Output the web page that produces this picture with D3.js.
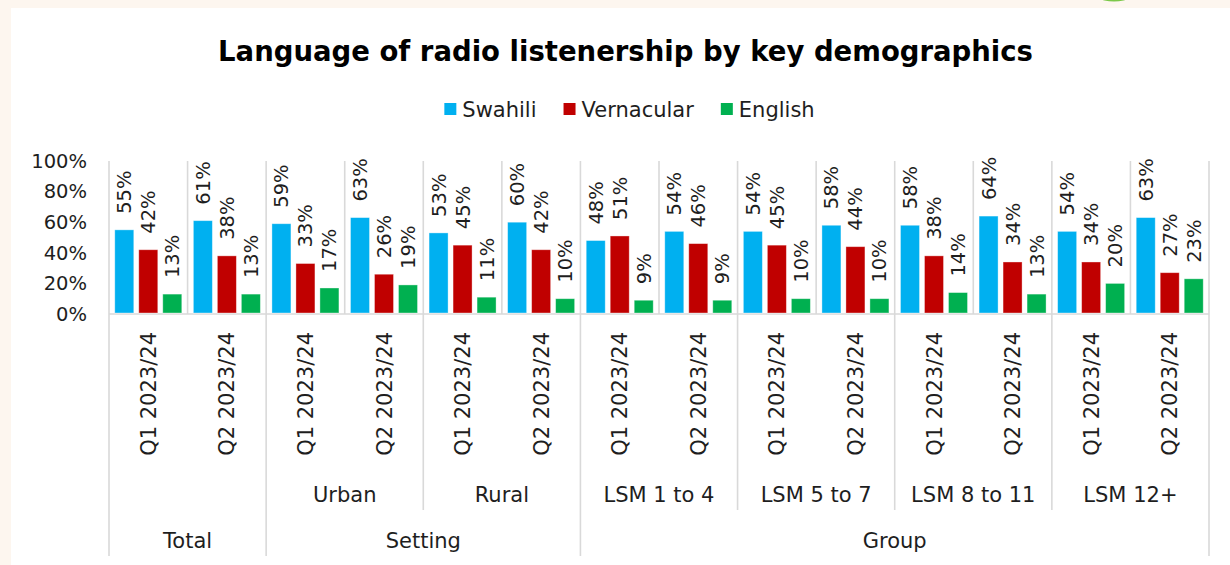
<!DOCTYPE html>
<html>
<head>
<meta charset="utf-8">
<script src="https://cdn.jsdelivr.net/npm/d3@7"></script>
<style>
  html, body { margin: 0; padding: 0; background: #fdf6ef; }
  svg { display: block; }
  text { font-family: "DejaVu Sans", sans-serif; fill: #1e1e1e; }
</style>
</head>
<body>
<svg id="chart" width="1230" height="565"></svg>
<script>
// Radio listenership language shares (%) per period and demographic segment
const periods = ["Q1 2023/24", "Q2 2023/24"];
const subgroups = ["", "Urban", "Rural", "LSM 1 to 4", "LSM 5 to 7", "LSM 8 to 11", "LSM 12+"];
const topGroups = ["Total", "Setting", "Setting", "Group", "Group", "Group", "Group"];
const seriesNames = ["Swahili", "Vernacular", "English"];
const swahili    = [55, 61, 59, 63, 53, 60, 48, 54, 54, 58, 58, 64, 54, 63];
const vernacular = [42, 38, 33, 26, 45, 42, 51, 46, 45, 44, 38, 34, 34, 27];
const english    = [13, 13, 17, 19, 11, 10,  9,  9, 10, 10, 14, 13, 20, 23];
const yTicks = [0, 20, 40, 60, 80, 100];

const colors = ["#00b0f0", "#c00000", "#00b050"];
const seriesValues = [swahili, vernacular, english];

// one row per category (segment x period)
const rows = swahili.map((_, i) => ({
  idx: i,
  period: periods[i % 2],
  sub: subgroups[Math.floor(i / 2)],
  top: topGroups[Math.floor(i / 2)],
  values: seriesValues.map(s => s[i])
}));

const svg = d3.select("#chart");
const W = 1230, H = 565;
const labelSize = "21px";

// page background and white card
svg.append("rect").attr("width", W).attr("height", H).attr("fill", "#fdf6ef");
svg.append("ellipse").attr("cx", 1114).attr("cy", -12).attr("rx", 25).attr("ry", 13.5).attr("fill", "#7cc84a");
svg.append("rect").attr("x", 11).attr("y", 8).attr("width", W - 11).attr("height", H - 8).attr("fill", "#ffffff");

const plot = { left: 109, right: 1209, top: 161, bottom: 314 };

const x = d3.scaleBand().domain(rows.map(r => r.idx)).range([plot.left, plot.right]).padding(0);
const xs = d3.scaleBand().domain(seriesNames).range([0, x.bandwidth()]).paddingInner(0.208).paddingOuter(0.241);
const y = d3.scaleLinear().domain([0, 100]).range([plot.bottom, plot.top]);

// title, fitted to its width
const title = svg.append("text")
  .attr("x", 625.5).attr("y", 61)
  .attr("text-anchor", "middle")
  .style("font-weight", "bold")
  .style("font-size", "30px")
  .style("fill", "#000")
  .text("Language of radio listenership by key demographics");
const tw = title.node().getComputedTextLength();
title.style("font-size", (30 * 815 / tw).toFixed(2) + "px");

// legend: swatch + name, laid out in a row and centred
const legend = svg.append("g");
const items = seriesNames.map((name, i) => {
  const g = legend.append("g");
  g.append("rect").attr("x", 0).attr("y", -6).attr("width", 12).attr("height", 12).attr("fill", colors[i]);
  const t = g.append("text").attr("x", 18).attr("y", 0).attr("dy", "0.36em")
    .style("font-size", labelSize).text(name);
  return { g, w: 18 + t.node().getComputedTextLength() };
});
const gap = 27;
const totalW = d3.sum(items, d => d.w) + gap * (items.length - 1);
let lx = 629.5 - totalW / 2;
items.forEach(d => { d.g.attr("transform", `translate(${lx},109)`); lx += d.w + gap; });

// y axis labels (no axis line)
const yAxis = d3.axisLeft(y).tickValues(yTicks).tickFormat(d => d + "%").tickSize(0).tickPadding(22);
const yg = svg.append("g").attr("transform", `translate(${plot.left},0)`).call(yAxis);
yg.select(".domain").remove();
yg.selectAll("text").style("font-size", "19.5px").style("font-family", "DejaVu Sans, sans-serif").attr("fill", "#1e1e1e");

// category separators
const gridColor = "#d9d9d9";
const boundaries = d3.range(rows.length + 1);
const sep = svg.append("g").attr("stroke", gridColor).attr("stroke-width", 1.6);
boundaries.forEach(b => {
  const bx = b < rows.length ? x(b) : plot.right;
  let y2 = plot.bottom;
  const prev = rows[b - 1], next = rows[b];
  if (!prev || !next || prev.top !== next.top) y2 = 556;
  else if (prev.sub !== next.sub) y2 = 510;
  sep.append("line").attr("x1", bx).attr("x2", bx).attr("y1", plot.top).attr("y2", y2);
});
// horizontal category axis line
svg.append("line").attr("x1", plot.left).attr("x2", plot.right)
  .attr("y1", plot.bottom).attr("y2", plot.bottom)
  .attr("stroke", gridColor).attr("stroke-width", 1.6);

// bars
const cat = svg.append("g").selectAll("g").data(rows).join("g")
  .attr("transform", d => `translate(${x(d.idx)},0)`);

cat.selectAll("rect").data(d => d.values.map((v, i) => ({ v, i })))
  .join("rect")
  .attr("x", d => xs(seriesNames[d.i]))
  .attr("width", xs.bandwidth())
  .attr("y", d => y(d.v))
  .attr("height", d => y(0) - y(d.v) - 1)
  .attr("fill", d => colors[d.i])
  .attr("stroke", "#ffffff").attr("stroke-opacity", 0.45).attr("stroke-width", 0.8);

// value labels, rotated
cat.selectAll("text").data(d => d.values.map((v, i) => ({ v, i })))
  .join("text")
  .attr("transform", d => `translate(${xs(seriesNames[d.i]) + xs.bandwidth() / 2},${y(d.v) - 16}) rotate(-90)`)
  .attr("dy", "0.36em")
  .attr("text-anchor", "start")
  .style("font-size", "19.5px")
  .text(d => d.v + "%");

// period labels, rotated
svg.append("g").selectAll("text").data(rows).join("text")
  .attr("transform", d => `translate(${x(d.idx) + x.bandwidth() / 2},332) rotate(-90)`)
  .attr("dy", "0.36em")
  .attr("text-anchor", "end")
  .style("font-size", labelSize)
  .text(d => d.period);

// segment labels
const subSpans = d3.groups(rows, r => Math.floor(r.idx / 2))
  .map(([k, rs]) => ({ label: rs[0].sub, x0: x(rs[0].idx), x1: x(rs[rs.length - 1].idx) + x.bandwidth() }))
  .filter(s => s.label);
svg.append("g").selectAll("text").data(subSpans).join("text")
  .attr("x", d => (d.x0 + d.x1) / 2).attr("y", 502)
  .attr("text-anchor", "middle")
  .style("font-size", labelSize)
  .text(d => d.label);

// top-level group labels
const topSpans = d3.groups(rows, r => r.top)
  .map(([k, rs]) => ({ label: k, x0: x(rs[0].idx), x1: x(rs[rs.length - 1].idx) + x.bandwidth() }));
svg.append("g").selectAll("text").data(topSpans).join("text")
  .attr("x", d => (d.x0 + d.x1) / 2).attr("y", 548)
  .attr("text-anchor", "middle")
  .style("font-size", labelSize)
  .text(d => d.label);
</script>
</body>
</html>
